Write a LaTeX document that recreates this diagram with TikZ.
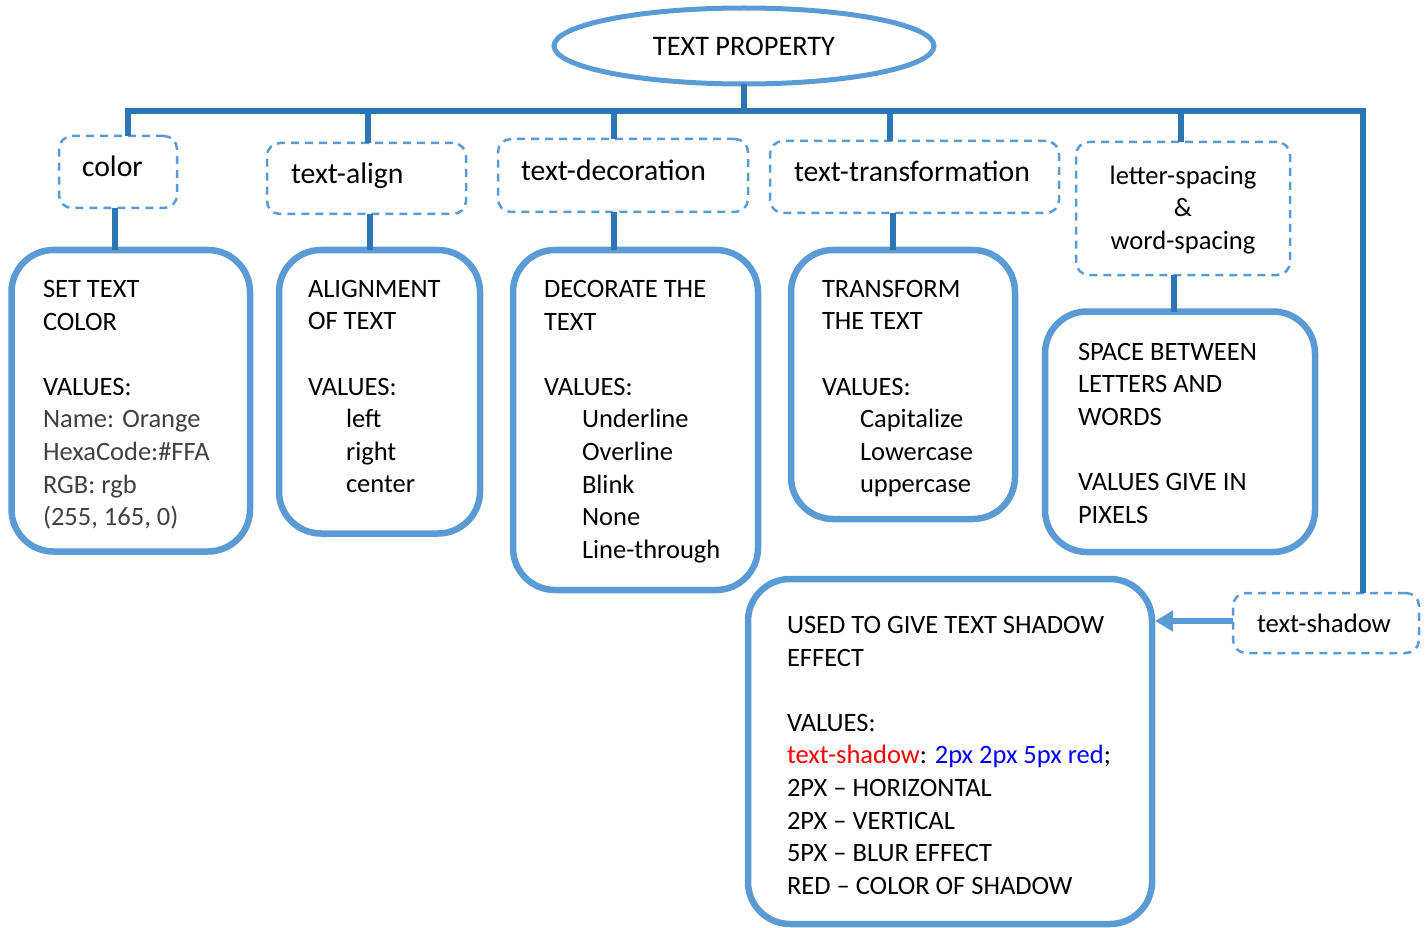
\documentclass[tikz,border=0pt]{standalone}
\usepackage{fontspec}
\setmainfont{Carlito}
\usetikzlibrary{arrows.meta,shapes.geometric}
\definecolor{lb}{HTML}{5B9BD5}
\definecolor{db}{HTML}{2E75B6}
\definecolor{tg}{HTML}{404040}
\definecolor{vblue}{HTML}{0000FF}
\definecolor{vred}{HTML}{FF0000}
\tikzset{
  sbox/.style={draw=lb, line width=6.5pt, rounded corners=42pt, outer sep=0pt, anchor=north west, inner sep=0pt},
  dbox/.style={draw=lb, line width=2.5pt, dash pattern=on 8pt off 6pt, rounded corners=13pt, outer sep=0pt, anchor=north west, inner sep=0pt},
  conn/.style={draw=db, line width=5.5pt},
  txt/.style={inner sep=0pt, outer sep=0pt, align=left, anchor=north west, font=\fontsize{26.5}{32.6}\selectfont},
  lbl/.style={inner sep=0pt, outer sep=0pt, anchor=base west, font=\fontsize{29.7}{34}\selectfont},
}
\newcommand{\ind}{\hspace*{38pt}}
\begin{document}
\begin{tikzpicture}[x=1pt,y=-1pt]
\useasboundingbox (0,0) rectangle (1427,928);

% title
\node[draw=lb, line width=5pt, ellipse, minimum width=380pt, minimum height=76pt, inner sep=0pt, outer sep=0pt,
      font=\fontsize{28.3}{32}\selectfont] (tp) at (744,46) {TEXT PROPERTY};

% dashed boxes
\node[dbox, minimum width=118pt, minimum height=72pt] (d1) at (59,136) {};
\node[dbox, minimum width=199pt, minimum height=71pt] (d2) at (267,143) {};
\node[dbox, minimum width=250pt, minimum height=73pt] (d3) at (498,139) {};
\node[dbox, minimum width=289pt, minimum height=72pt] (d4) at (770,141) {};
\node[dbox, minimum width=214pt, minimum height=133pt] (d5) at (1076,142) {};
\node[dbox, minimum width=186pt, minimum height=60pt] (d6) at (1233,593) {};

\node[lbl] (l1) at (82,177) {color};
\node[lbl] (l2) at (291,184) {text-align};
\node[lbl] (l3) at (521,181) {text-decoration};
\node[lbl] (l4) at (794,182) {text-transformation};
\node[inner sep=0pt, outer sep=0pt, align=center, anchor=north, font=\fontsize{26.6}{32.3}\selectfont] (l5) at (1183,166)
  {letter-spacing\\\&\\word-spacing};
\node[lbl, font=\fontsize{26.7}{32}\selectfont] (l6) at (1257,632) {text-shadow};

% solid boxes
\node[sbox, minimum width=238.5pt, minimum height=301.5pt] (b1) at (11.5,250) {};
\node[sbox, minimum width=201pt, minimum height=283.5pt] (b2) at (279,250) {};
\node[sbox, minimum width=245pt, minimum height=340pt] (b3) at (513,250) {};
\node[sbox, minimum width=224pt, minimum height=269pt] (b4) at (791,250) {};
\node[sbox, minimum width=270pt, minimum height=240.5pt] (b5) at (1045,311.5) {};
\node[sbox, minimum width=404pt, minimum height=345pt] (b6) at (748,579) {};

\node[txt] (t1) at (43,280.2) {SET TEXT\\COLOR\\\mbox{}\\VALUES:\\
  \textcolor{tg}{Name: Orange}\\\textcolor{tg}{HexaCode:\#FFA}\\\textcolor{tg}{RGB: rgb}\\\textcolor{tg}{(255, 165, 0)}};
\node[txt] (t2) at (308,280.2) {ALIGNMENT\\OF TEXT\\\mbox{}\\VALUES:\\\ind left\\\ind right\\\ind center};
\node[txt] (t3) at (544,280.2) {DECORATE THE\\TEXT\\\mbox{}\\VALUES:\\\ind Underline\\\ind Overline\\\ind Blink\\\ind None\\\ind Line-through};
\node[txt] (t4) at (822,280.2) {TRANSFORM\\THE TEXT\\\mbox{}\\VALUES:\\\ind Capitalize\\\ind Lowercase\\\ind uppercase};
\node[txt] (t5) at (1078,343.2) {SPACE BETWEEN\\LETTERS AND\\WORDS\\\mbox{}\\VALUES GIVE IN\\PIXELS};
\node[txt] (t6) at (787,616.2) {USED TO GIVE TEXT SHADOW\\EFFECT\\\mbox{}\\VALUES:\\
  \textcolor{vred}{text-shadow}: \textcolor{vblue}{2px 2px 5px red};\\
  2PX -- HORIZONTAL\\2PX -- VERTICAL\\5PX -- BLUR EFFECT\\RED -- COLOR OF SHADOW};

% connectors
\coordinate (j1) at (128,111);
\coordinate (j2) at (368,111);
\coordinate (j3) at (614,111);
\coordinate (j4) at (890,111);
\coordinate (j5) at (1181,111);
\coordinate (jr) at (1363,111);
\draw[conn] (tp.south) -- (tp.south |- j1);
\draw[conn] (j1 |- d1.north) -- (j1) -- (jr) -- (jr |- d6.north);
\draw[conn] (j2) -- (j2 |- d2.north);
\draw[conn] (j3) -- (j3 |- d3.north);
\draw[conn] (j4) -- (j4 |- d4.north);
\draw[conn] (j5) -- (j5 |- d5.north);

\coordinate (k1) at (115,0);
\coordinate (k2) at (370,0);
\coordinate (k3) at (614,0);
\coordinate (k4) at (893,0);
\coordinate (k5) at (1174,0);
\draw[conn] (k1 |- d1.south) -- (k1 |- b1.north);
\draw[conn] (k2 |- d2.south) -- (k2 |- b2.north);
\draw[conn] (k3 |- d3.south) -- (k3 |- b3.north);
\draw[conn] (k4 |- d4.south) -- (k4 |- b4.north);
\draw[conn] (k5 |- d5.south) -- (k5 |- b5.north);

\coordinate (ay) at (0,621);
\draw[draw=lb, line width=6pt, -{Triangle[length=18pt,width=20pt]}] (d6.west |- ay) -- ([xshift=3pt]b6.east |- ay);
\end{tikzpicture}
\end{document}
